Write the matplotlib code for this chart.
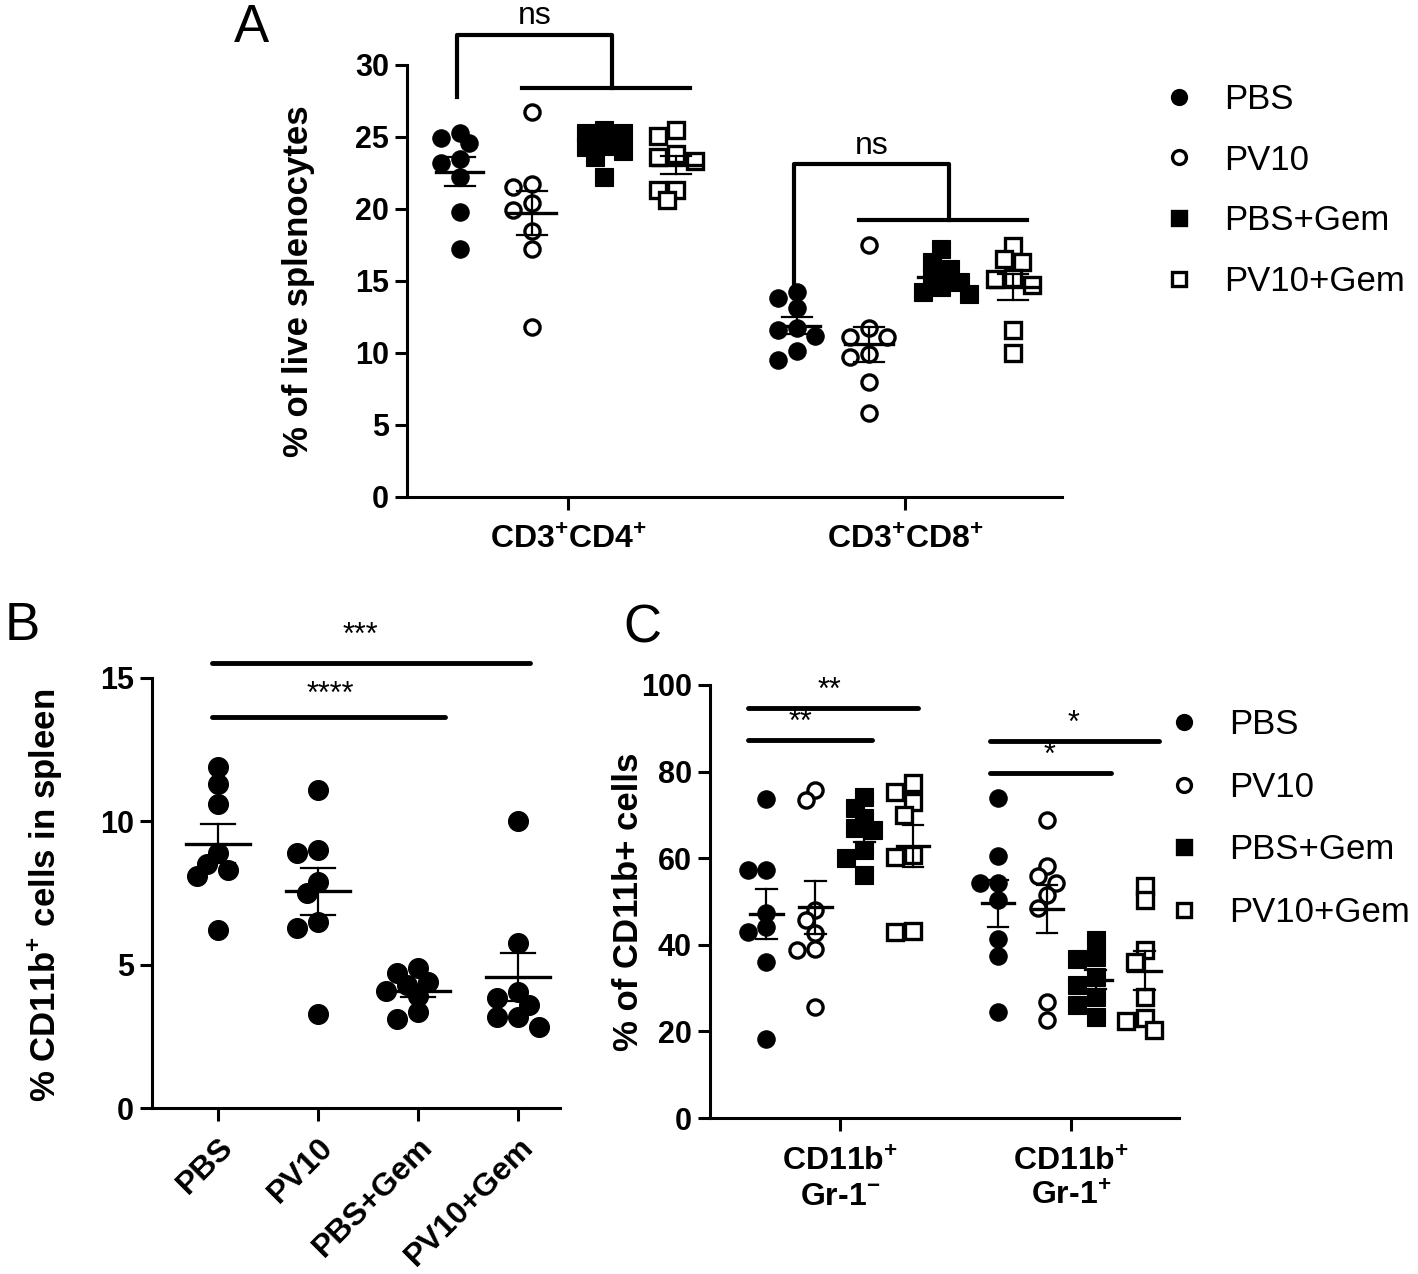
import numpy as np
import matplotlib
matplotlib.use('Agg')
import matplotlib.pyplot as plt
from matplotlib.lines import Line2D

plt.rcParams['font.family'] = ['Liberation Sans', 'DejaVu Sans']
plt.rcParams['mathtext.fontset'] = 'custom'
plt.rcParams['mathtext.rm'] = 'Liberation Sans'
plt.rcParams['mathtext.bf'] = 'Liberation Sans:bold'
plt.rcParams['axes.linewidth'] = 2.2

groups = ['PBS', 'PV10', 'PBS+Gem', 'PV10+Gem']

# panel A: % of live splenocytes
a_cd4_pbs = [25.3, 24.9, 24.6, 23.5, 23.2, 22.2, 19.8, 17.2]
a_cd4_pv10 = [26.7, 21.7, 21.5, 20.4, 19.9, 18.5, 17.2, 11.8]
a_cd4_pbsgem = [25.5, 25.3, 25.3, 24.4, 24.3, 24.0, 23.6, 22.2]
a_cd4_pv10gem = [25.5, 25.1, 23.8, 23.6, 23.3, 21.3, 21.3, 20.6]
a_cd8_pbs = [14.2, 13.8, 13.1, 11.7, 11.6, 11.2, 10.1, 9.5]
a_cd8_pv10 = [17.5, 11.7, 11.1, 11.1, 9.9, 9.7, 8.0, 5.8]
a_cd8_pbsgem = [17.2, 16.3, 15.8, 15.3, 14.9, 14.6, 14.2, 14.1]
a_cd8_pv10gem = [17.4, 16.5, 16.3, 15.2, 15.1, 14.7, 11.6, 10.0]

# panel B: % CD11b+ cells in spleen
b_pbs = [11.9, 11.3, 10.6, 8.9, 8.5, 8.3, 8.1, 6.2]
b_pv10 = [11.1, 9.0, 8.9, 7.9, 7.5, 6.5, 6.3, 3.3]
b_pbsgem = [4.9, 4.7, 4.4, 4.3, 4.1, 3.9, 3.35, 3.1]
b_pv10gem = [10.0, 5.75, 4.05, 3.85, 3.6, 3.2, 3.2, 2.85]

# panel C: % of CD11b+ cells
c_neg_pbs = [73.7, 57.3, 57.3, 47.3, 44.1, 43.0, 36.0, 18.2]
c_neg_pv10 = [75.7, 73.4, 48.0, 45.7, 42.7, 39.0, 38.8, 25.6]
c_neg_pbsgem = [74.1, 71.6, 69.3, 67.0, 66.5, 61.9, 60.0, 56.1]
c_neg_pv10gem = [77.4, 75.3, 73.0, 70.0, 60.7, 60.3, 43.2, 43.0]
c_pos_pbs = [73.9, 60.5, 54.3, 54.3, 50.3, 41.3, 37.4, 24.5]
c_pos_pv10 = [68.8, 58.2, 55.9, 54.3, 51.5, 48.5, 26.8, 22.6]
c_pos_pbsgem = [41.1, 37.2, 36.7, 32.6, 30.7, 28.0, 26.1, 23.3]
c_pos_pv10gem = [53.5, 50.3, 38.8, 36.0, 28.0, 23.1, 22.5, 20.3]

styles = [('o', 'black'), ('o', 'white'), ('s', 'black'), ('s', 'white')]

fig = plt.figure(figsize=(14.18, 12.74), dpi=100)


def swarm(ax, xc, vals, diam):
    # simple beeswarm in pixel space
    pix = ax.transData.transform(np.column_stack([np.full(len(vals), xc), vals]))
    placed = []
    xs = np.zeros(len(vals))
    for i in np.argsort(-np.asarray(vals)):
        px, py = pix[i]
        for k in [0, -1, 1, -2, 2, -3, 3, -4, 4]:
            cx = px + k * diam * 0.5
            if all(np.hypot(cx - qx, py - qy) >= diam * 0.72 for qx, qy in placed):
                break
        placed.append((cx, py))
        xs[i] = cx
    return ax.transData.inverted().transform(np.column_stack([xs, pix[:, 1]]))[:, 0]


def draw_group(ax, xc, vals, style, diam, mean_hw, cap_hw):
    marker, fc = style
    xs = swarm(ax, xc, vals, diam)
    mew = 2.4 if fc == 'white' else 0.8
    ax.plot(xs, vals, ls='none', marker=marker, ms=diam / 1.389 - mew, mfc=fc,
            mec='black', mew=mew, zorder=3, clip_on=False)
    m = np.mean(vals)
    se = np.std(vals, ddof=1) / np.sqrt(len(vals))
    ax.plot([xc - mean_hw, xc + mean_hw], [m, m], color='black', lw=2.4, zorder=5)
    ax.plot([xc, xc], [m - se, m + se], color='black', lw=1.6, zorder=5)
    for y in (m - se, m + se):
        ax.plot([xc - cap_hw, xc + cap_hw], [y, y], color='black', lw=1.6, zorder=5)


def style_axis(ax, yticks):
    for s in ['top', 'right']:
        ax.spines[s].set_visible(False)
    ax.tick_params(width=2.2, length=9, labelsize=22, pad=4)
    ax.set_yticks(yticks)
    ax.set_yticklabels([str(t) for t in yticks], fontweight='bold', fontsize=22)


def sig_line(ax, x0, x1, y, text, ty, tx=None):
    ax.plot([x0, x1], [y, y], color='black', lw=3.5, clip_on=False, solid_capstyle='round')
    if tx is None:
        tx = (x0 + x1) / 2
    ax.text(tx, ty, text, ha='center', va='center', fontsize=22, clip_on=False)


legend_kw = dict(loc='upper left', frameon=False, fontsize=25, handlelength=1.0,
                 handletextpad=0.8, borderpad=0, borderaxespad=0)

# ---------- panel A ----------
axA = fig.add_axes([0.287, 0.610, 0.462, 0.339])
axA.set_xlim(-0.478, 1.466)
axA.set_ylim(0, 30)
style_axis(axA, [0, 5, 10, 15, 20, 25, 30])
axA.set_xticks([0, 1])
axA.set_xticklabels([r'CD3$^{\mathbf{+}}$CD4$^{\mathbf{+}}$', r'CD3$^{\mathbf{+}}$CD8$^{\mathbf{+}}$'],
                    fontweight='bold', fontsize=23)
axA.tick_params(axis='x', pad=12)
axA.set_ylabel('% of live splenocytes', fontweight='bold', fontsize=25)
axA.yaxis.set_label_coords(-0.14, 0.5)

step = 0.214
offs = [-1.5 * step, -0.5 * step, 0.5 * step, 1.5 * step]
for gi, sets in enumerate([[a_cd4_pbs, a_cd4_pv10, a_cd4_pbsgem, a_cd4_pv10gem],
                           [a_cd8_pbs, a_cd8_pv10, a_cd8_pbsgem, a_cd8_pv10gem]]):
    for k, vals in enumerate(sets):
        draw_group(axA, gi + offs[k], vals, styles[k], 18.5, 0.07, 0.045)

# ns brackets
for g, top, leg, bar in [(0, 32.1, 27.8, 28.4), (1, 23.1, 14.4, 19.2)]:
    xl = g - 0.329
    xr = g + 0.13
    kw = dict(color='black', lw=3.0, clip_on=False)
    axA.plot([xl, xl, xr, xr], [leg, top, top, bar], **kw)
    axA.plot([g - 0.136, g + 0.362], [bar, bar], **kw)
    axA.text((xl + xr) / 2, top + 1.3, 'ns', ha='center', va='center', fontsize=23, clip_on=False)

handles = [Line2D([], [], ls='none', marker=m, ms=10, mfc=fc, mec='black', mew=2.4)
           for m, fc in styles]
fig.legend(handles, groups, bbox_to_anchor=(0.8195, 0.935), labelspacing=0.8, **legend_kw)

# ---------- panel B ----------
axB = fig.add_axes([0.107, 0.130, 0.288, 0.338])
axB.set_xlim(-0.66, 3.42)
axB.set_ylim(0, 15)
style_axis(axB, [0, 5, 10, 15])
axB.set_xticks(range(4))
axB.set_xticklabels(groups, rotation=45, ha='right', rotation_mode='anchor',
                    fontweight='bold', fontsize=23)
axB.tick_params(axis='x', pad=8)
axB.set_ylabel(r'% CD11b$^{\mathbf{+}}$ cells in spleen', fontweight='bold', fontsize=25)
axB.yaxis.set_label_coords(-0.213, 0.495)

for k, vals in enumerate([b_pbs, b_pv10, b_pbsgem, b_pv10gem]):
    draw_group(axB, k, vals, ('o', 'black'), 21, 0.32, 0.17)

sig_line(axB, -0.06, 3.12, 15.52, '***', 16.45, 1.42)
sig_line(axB, -0.06, 2.27, 13.64, '****', 14.4, 1.12)

# ---------- panel C ----------
axC = fig.add_axes([0.5007, 0.1224, 0.331, 0.340])
axC.set_xlim(-0.56, 1.466)
axC.set_ylim(0, 100)
style_axis(axC, [0, 20, 40, 60, 80, 100])
axC.set_xticks([0, 1])
axC.set_xticklabels([r'CD11b$^{\mathbf{+}}$' + '\n' + r'Gr-1$^{\mathbf{-}}$',
                     r'CD11b$^{\mathbf{+}}$' + '\n' + r'Gr-1$^{\mathbf{+}}$'],
                    fontweight='bold', fontsize=23, linespacing=1.2)
axC.tick_params(axis='x', pad=12)
axC.set_ylabel('% of CD11b+ cells', fontweight='bold', fontsize=25)
axC.yaxis.set_label_coords(-0.138, 0.5)

step = 0.211
offs = [-1.5 * step, -0.5 * step, 0.5 * step, 1.5 * step]
for gi, sets in enumerate([[c_neg_pbs, c_neg_pv10, c_neg_pbsgem, c_neg_pv10gem],
                           [c_pos_pbs, c_pos_pv10, c_pos_pbsgem, c_pos_pv10gem]]):
    for k, vals in enumerate(sets):
        draw_group(axC, gi + offs[k], vals, styles[k], 18.5, 0.07, 0.045)

sig_line(axC, -0.397, 0.336, 94.7, '**', 98.6, -0.043)
sig_line(axC, -0.397, 0.138, 87.3, '**', 91.3, -0.17)
sig_line(axC, 0.647, 1.38, 87.1, '*', 91.0, 1.01)
sig_line(axC, 0.647, 1.17, 79.7, '*', 83.5, 0.905)

fig.legend(handles, groups, bbox_to_anchor=(0.8225, 0.444), labelspacing=0.85, **legend_kw)

# panel letters
fig.text(0.177, 0.998, 'A', ha='center', va='top', fontsize=38)
fig.text(0.0155, 0.509, 'B', ha='center', va='center', fontsize=38)
fig.text(0.453, 0.507, 'C', ha='center', va='center', fontsize=38)

fig.savefig('out.png', dpi=100)
